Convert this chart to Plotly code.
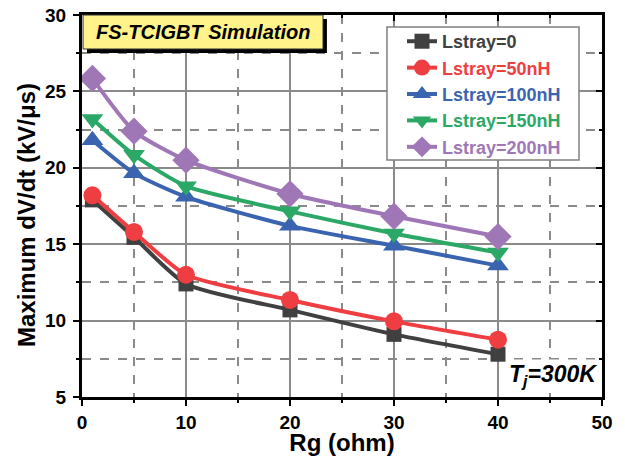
import plotly.graph_objects as go

rg = [1, 5, 10, 20, 30, 40]
names = ["Lstray=0", "Lstray=50nH", "Lstray=100nH", "Lstray=150nH", "Lstray=200nH"]
dvdt_0 = [17.9, 15.45, 12.4, 10.7, 9.1, 7.8]
dvdt_50 = [18.2, 15.8, 13.0, 11.35, 9.95, 8.75]
dvdt_100 = [21.8, 19.65, 18.1, 16.2, 14.9, 13.6]
dvdt_150 = [23.2, 20.85, 18.8, 17.15, 15.7, 14.45]
dvdt_200 = [25.85, 22.4, 20.5, 18.3, 16.83, 15.5]
series = [dvdt_0, dvdt_50, dvdt_100, dvdt_150, dvdt_200]

colors = ["#404040", "#EF3E42", "#3B64B0", "#2BA866", "#A077B6"]
symbols = ["square", "circle", "triangle-up", "triangle-down", "diamond"]
msizes = [15, 18, 19, 19, 21]

FONT = "Liberation Sans, Arial, sans-serif"
GRID = "#8a8a8a"

fig = go.Figure()
for name, vals, c, s, ms in zip(names, series, colors, symbols, msizes):
    fig.add_trace(go.Scatter(
        x=rg, y=vals, mode="lines+markers",
        name=f"<span style='color:{c}'>{name}</span>",
        line=dict(color=c, width=4, shape="spline", smoothing=0.6),
        marker=dict(symbol=s, size=ms, color=c, line=dict(width=0)),
    ))

# empty trace so the mirrored (inside-tick) top/right axes are drawn
fig.add_trace(go.Scatter(x=[None], y=[None], xaxis="x2", yaxis="y2",
                         showlegend=False, hoverinfo="skip"))

axis_common = dict(
    showline=True, linecolor="black", linewidth=3, zeroline=False,
    automargin=False,
    tickfont=dict(family=FONT, size=19, color="black", weight="bold"),
    tickwidth=2, tickcolor="black",
)
mirror_common = dict(
    showline=True, linecolor="black", linewidth=3, zeroline=False, automargin=False,
    ticks="inside", ticklen=6, tickwidth=2, tickcolor="black",
    showticklabels=False, showgrid=False,
)

fig.update_layout(
    width=625, height=456,
    margin=dict(l=82, r=23, t=15, b=59, autoexpand=False),
    paper_bgcolor="white", plot_bgcolor="white",
    font=dict(family=FONT, color="black"),
    xaxis=dict(
        range=[0, 50], dtick=10, ticks="outside", ticklen=6,
        showgrid=True, gridcolor=GRID, gridwidth=2,
        minor=dict(dtick=5, ticks="outside", ticklen=3, tickwidth=2, tickcolor="black",
                   showgrid=True, griddash="dash", gridcolor=GRID, gridwidth=2),
        title=dict(text="Rg (ohm)", standoff=0,
                   font=dict(family=FONT, size=24, color="black", weight="bold")),
        **axis_common,
    ),
    yaxis=dict(
        range=[5, 30], dtick=5, ticks="outside", ticklen=6, ticklabelstandoff=3,
        showgrid=True, gridcolor=GRID, gridwidth=2,
        minor=dict(dtick=2.5, ticks="outside", ticklen=3, tickwidth=2, tickcolor="black",
                   showgrid=True, griddash="dash", gridcolor=GRID, gridwidth=2),
        **axis_common,
    ),
    xaxis2=dict(overlaying="x", side="top", range=[0, 50], dtick=10,
                minor=dict(dtick=5, ticks="inside", ticklen=3, tickwidth=2,
                           tickcolor="black", showgrid=False),
                **mirror_common),
    yaxis2=dict(overlaying="y", side="right", range=[5, 30], dtick=5,
                minor=dict(dtick=2.5, ticks="inside", ticklen=3, tickwidth=2,
                           tickcolor="black", showgrid=False),
                **mirror_common),
    legend=dict(
        x=0.6154, y=0.979, xanchor="left", yanchor="top",
        bgcolor="rgba(0,0,0,0)", borderwidth=0,
        font=dict(family=FONT, size=18, weight="bold"),
        tracegroupgap=0,
    ),
    showlegend=True,
)

# y-axis title (placed as rotated text to match the reference's vertical offset)
fig.add_annotation(xref="paper", yref="paper", x=-0.1, y=0.4764,
                   text="<b>Maximum dV/dt (kV/μs)</b>", textangle=-90, showarrow=False,
                   font=dict(family=FONT, size=24, color="black"),
                   xanchor="center", yanchor="middle", xshift=-4)

# legend frame
fig.add_shape(type="rect", xref="paper", yref="paper",
              x0=0.5865, x1=0.9558, y0=0.6204, y1=0.9686,
              fillcolor="white", line=dict(color="#808080", width=1.5), layer="above")

# title box with shadow
fig.add_shape(type="rect", xref="paper", yref="paper",
              x0=0.0096, x1=0.471, y0=0.9005, y1=0.9895,
              fillcolor="black", line=dict(width=0), layer="above")
fig.add_shape(type="rect", xref="paper", yref="paper",
              x0=0.002, x1=0.4635, y0=0.911, y1=1.0,
              fillcolor="#FFF38A", line=dict(color="#333333", width=1), layer="above")
fig.add_annotation(xref="paper", yref="paper", x=0.2327, y=0.9555,
                   text="<b><i>FS-TCIGBT Simulation</i></b>", showarrow=False,
                   font=dict(family=FONT, size=20, color="black"),
                   xanchor="center", yanchor="middle")

fig.add_annotation(xref="paper", yref="paper", x=0.994, y=0.012,
                   text="<b><i>T<sub>j</sub>=300K</i></b>", showarrow=False,
                   font=dict(family=FONT, size=23, color="black"),
                   bgcolor="white", xanchor="right", yanchor="bottom", borderpad=1)

fig.write_html("out.html", post_script="document.body.style.margin='0';",
               config={"displayModeBar": False})
